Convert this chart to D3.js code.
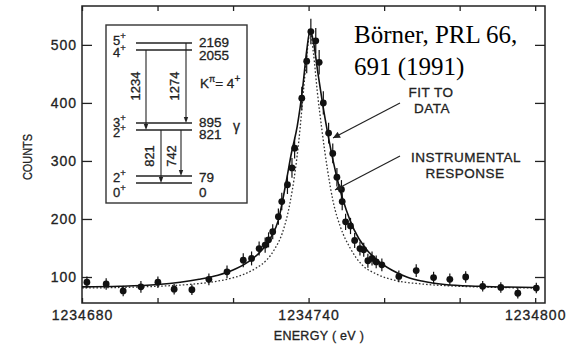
<!DOCTYPE html>
<html>
<head>
<meta charset="utf-8">
<script src="https://cdn.jsdelivr.net/npm/d3@7"></script>
<style>
body { margin: 0; background: #fff; }
svg { display: block; }
text { font-family: "Liberation Sans", Arial, sans-serif; fill: #222; stroke: #222; stroke-width: 0.3px; }
</style>
</head>
<body>
<svg id="chart" width="571" height="345"></svg>
<script>
var dataE = [1234681.3, 1234686.4, 1234690.9, 1234695.6, 1234700.1, 1234704.4, 1234709.1, 1234713.6,
    1234718.4, 1234722.7, 1234724.9, 1234726.9, 1234728.5, 1234729.4, 1234730.5, 1234732.0,
    1234732.9, 1234734.4, 1234735.6, 1234736.3, 1234738.2, 1234739.5, 1234740.6, 1234741.9,
    1234742.8, 1234743.9, 1234745.3, 1234746.4, 1234747.5, 1234748.7, 1234748.9, 1234749.8,
    1234751.1, 1234752.2, 1234753.6, 1234754.6, 1234755.7, 1234756.8, 1234757.9, 1234759.4,
    1234763.9, 1234768.5, 1234773.1, 1234777.4, 1234781.6, 1234786.1, 1234790.9, 1234795.4, 1234800.3];
var dataC = [91, 88, 76, 83, 91, 79, 78, 96,
    109, 129, 132, 149, 155, 164, 178, 204,
    230, 259, 288, 322, 408, 472, 523, 507,
    470, 400, 348, 313, 272, 251, 230, 195,
    188, 163, 149, 147, 128, 132, 126, 121,
    101, 111, 99, 96, 100, 84, 82, 72, 81];
var dataErr = [10, 10, 9, 10, 10, 9, 9, 10,
    11, 12, 12, 12, 13, 13, 13, 14,
    15, 16, 17, 18, 20, 21, 22, 22,
    21, 20, 18, 17, 16, 16, 15, 14,
    14, 13, 12, 12, 12, 12, 11, 11,
    10, 11, 10, 10, 10, 9, 9, 9, 9];

// fitted curve (solid)
var fitE = [1234680, 1234690, 1234700, 1234706, 1234711, 1234716, 1234720, 1234724, 1234727,
    1234730, 1234732, 1234734, 1234735.5, 1234737, 1234738.5, 1234739.5, 1234740.4, 1234741.3,
    1234742.5, 1234743.8, 1234745, 1234746.5, 1234748, 1234750, 1234752, 1234755, 1234758,
    1234762, 1234766, 1234770, 1234776, 1234785, 1234800];
var fitC = [83, 84, 87, 91, 96, 103, 112, 126, 142,
    168, 198, 262, 315, 360, 430, 490, 525, 505,
    450, 395, 350, 300, 258, 215, 182, 150, 130,
    112, 100, 93, 87, 84, 82];

// instrumental response (dotted)
var respE = [1234680, 1234690, 1234700, 1234708, 1234714, 1234719, 1234723, 1234726, 1234729,
    1234731, 1234733, 1234735, 1234736.5, 1234737.5, 1234738.5, 1234739.5, 1234740.4, 1234741.3,
    1234742.3, 1234743.5, 1234745, 1234746.5, 1234748.5, 1234751, 1234754, 1234758, 1234763,
    1234770, 1234780, 1234790, 1234800];
var respC = [81, 82, 84, 87, 91, 97, 105, 115, 130,
    148, 175, 225, 285, 340, 410, 480, 522, 485,
    420, 355, 285, 230, 185, 150, 122, 105, 94,
    88, 84, 82, 81];

var xTicks = [1234680, 1234700, 1234720, 1234740, 1234760, 1234780, 1234800];
var xLabels = [1234680, 1234740, 1234800];
var yTicks = [100, 200, 300, 400, 500];

// level scheme of the inset
var levelSpin = ["5", "4", "3", "2", "2", "0"];
var levelEnergy = ["2169", "2055", "895", "821", "79", "0"];
var transLabel = ["1234", "1274", "821", "742"];
var transFrom = [1, 0, 3, 3];
var transTo = [3, 2, 5, 4];

// inset layout (schematic, not to scale)
var levelY = [43, 50, 123, 130, 176, 183];
var spinBase = [44.5, 57, 126.5, 137, 182, 197];
var energyBase = [47, 60, 127, 139, 182, 197];
var transX = [146, 186, 161, 181];
var transTextX = [135, 174, 149, 171];
var transTextY = [86, 86, 156, 156];

var svg = d3.select('#chart');
var pLeft = 82, pRight = 545, pTop = 6, pBottom = 303;

var x = d3.scaleLinear().domain([1234680, 1234802.6]).range([pLeft, pRight]);
var y = d3.scaleLinear().domain([55.2, 567]).range([pBottom, pTop]);

// axes, ticks pointing inward
var gl = svg.append('g').attr('transform', 'translate(' + pLeft + ',0)')
    .call(d3.axisLeft(y).tickValues(yTicks).tickSize(-10).tickPadding(5));
var gr = svg.append('g').attr('transform', 'translate(' + pRight + ',0)')
    .call(d3.axisRight(y).tickValues(yTicks).tickSize(-10).tickFormat(''));
var gb = svg.append('g').attr('transform', 'translate(0,' + pBottom + ')')
    .call(d3.axisBottom(x).tickValues(xTicks).tickSize(-5).tickPadding(7)
        .tickFormat(function (d) { return xLabels.indexOf(d) >= 0 ? d : ''; }));
var gt = svg.append('g').attr('transform', 'translate(0,' + pTop + ')')
    .call(d3.axisTop(x).tickValues(xTicks).tickSize(-5).tickFormat(''));

[gl, gr, gb, gt].forEach(function (g) {
    g.select('.domain').remove();
    g.selectAll('line').attr('stroke', '#222').attr('stroke-width', 1.3);
    g.selectAll('text').style('font-family', '"Liberation Sans", Arial, sans-serif')
        .style('font-size', '14px').style('letter-spacing', '1px').attr('fill', '#222');
});

svg.append('rect').attr('x', pLeft).attr('y', pTop)
    .attr('width', pRight - pLeft).attr('height', pBottom - pTop)
    .attr('fill', 'none').attr('stroke', '#222').attr('stroke-width', 1.5);

svg.append('text').attr('transform', 'translate(32,157) rotate(-90)')
    .attr('text-anchor', 'middle').style('font-size', '13px')
    .attr('textLength', 46).attr('lengthAdjust', 'spacingAndGlyphs').text('COUNTS');

svg.append('text').attr('x', 319).attr('y', 340).attr('text-anchor', 'middle')
    .style('font-size', '12.5px').style('letter-spacing', '0.3px').text('ENERGY ( eV )');

// curves
var line = function (xs, ys) {
    return d3.line().curve(d3.curveMonotoneX)
        .x(function (d, i) { return x(xs[i]); })
        .y(function (d, i) { return y(ys[i]); })(xs);
};

svg.append('path').attr('d', line(respE, respC))
    .attr('fill', 'none').attr('stroke', '#333').attr('stroke-width', 1.3)
    .attr('stroke-dasharray', '1.6,2');

svg.append('path').attr('d', line(fitE, fitC))
    .attr('fill', 'none').attr('stroke', '#111').attr('stroke-width', 1.6);

// data points with error bars
var pts = svg.append('g');
pts.selectAll('line').data(dataE).enter().append('line')
    .attr('x1', function (d) { return x(d); })
    .attr('x2', function (d) { return x(d); })
    .attr('y1', function (d, i) { return y(dataC[i] - dataErr[i]); })
    .attr('y2', function (d, i) { return y(dataC[i] + dataErr[i]); })
    .attr('stroke', '#111').attr('stroke-width', 1.2);
pts.selectAll('circle').data(dataE).enter().append('circle')
    .attr('cx', function (d) { return x(d); })
    .attr('cy', function (d, i) { return y(dataC[i]); })
    .attr('r', 3.4).attr('fill', '#111');

// reference text
var ref = svg.append('text').style('font-family', '"Liberation Serif", "Times New Roman", serif')
    .style('font-size', '25px').style('fill', '#000').style('stroke', 'none');
ref.append('tspan').attr('x', 354).attr('y', 43).text('Börner, PRL 66,');
ref.append('tspan').attr('x', 354).attr('y', 75).text('691 (1991)');

// annotation labels and arrows
svg.append('defs').append('marker').attr('id', 'ah')
    .attr('viewBox', '0 0 10 10').attr('refX', 10).attr('refY', 5)
    .attr('markerWidth', 9).attr('markerHeight', 7).attr('markerUnits', 'userSpaceOnUse')
    .attr('orient', 'auto')
    .append('path').attr('d', 'M0,0L10,5L0,10z').attr('fill', '#222');

var lab = svg.append('g').style('font-size', '13.5px').style('letter-spacing', '0.5px')
    .attr('text-anchor', 'middle');
lab.append('text').attr('x', 431).attr('y', 97).text('FIT TO');
lab.append('text').attr('x', 432).attr('y', 113).text('DATA');
lab.append('text').attr('x', 466).attr('y', 162).text('INSTRUMENTAL');
lab.append('text').attr('x', 465).attr('y', 178).text('RESPONSE');

svg.append('line').attr('x1', 400).attr('y1', 103).attr('x2', 333).attr('y2', 138)
    .attr('stroke', '#222').attr('stroke-width', 1.2).attr('marker-end', 'url(#ah)');
svg.append('line').attr('x1', 400).attr('y1', 156).attr('x2', 335).attr('y2', 190)
    .attr('stroke', '#222').attr('stroke-width', 1.2).attr('marker-end', 'url(#ah)');

// inset level scheme
var inset = svg.append('g');
inset.append('rect').attr('x', 106).attr('y', 25).attr('width', 141).attr('height', 178)
    .attr('fill', '#fff').attr('stroke', '#333').attr('stroke-width', 1.4);

inset.selectAll('.lvl').data(levelY).enter().append('line')
    .attr('x1', 136).attr('x2', 192)
    .attr('y1', function (d) { return d; }).attr('y2', function (d) { return d; })
    .attr('stroke', '#222').attr('stroke-width', 1.4);

levelSpin.forEach(function (s, i) {
    var t = inset.append('text').attr('x', 113).attr('y', spinBase[i])
        .style('font-size', '13px');
    t.append('tspan').text(s);
    t.append('tspan').attr('dy', -6).style('font-size', '9.5px').text('+');
    inset.append('text').attr('x', 199).attr('y', energyBase[i])
        .style('font-size', '13.5px').text(levelEnergy[i]);
});

transLabel.forEach(function (s, i) {
    var y1 = levelY[transFrom[i]], y2 = levelY[transTo[i]];
    inset.append('line').attr('x1', transX[i]).attr('x2', transX[i])
        .attr('y1', y1).attr('y2', y2 - 5)
        .attr('stroke', '#222').attr('stroke-width', 1.1);
    inset.append('path')
        .attr('d', 'M' + (transX[i] - 2.2) + ',' + (y2 - 6) + 'L' + (transX[i] + 2.2) + ',' + (y2 - 6) +
            'L' + transX[i] + ',' + y2 + 'Z')
        .attr('fill', '#222');
    inset.append('text')
        .attr('transform', 'translate(' + (transTextX[i] + 4.5) + ',' + transTextY[i] + ') rotate(-90)')
        .attr('text-anchor', 'middle').style('font-size', '13px').text(s);
});

var k = inset.append('text').attr('x', 200).attr('y', 88).style('font-size', '13.5px');
k.append('tspan').text('K');
k.append('tspan').attr('dy', -6).style('font-size', '9px').text('π');
k.append('tspan').attr('dy', 6).text('= 4');
k.append('tspan').attr('dy', -6).style('font-size', '10px').text('+');

inset.append('text').attr('x', 233).attr('y', 131).style('font-size', '14px').text('γ');
</script>
</body>
</html>
